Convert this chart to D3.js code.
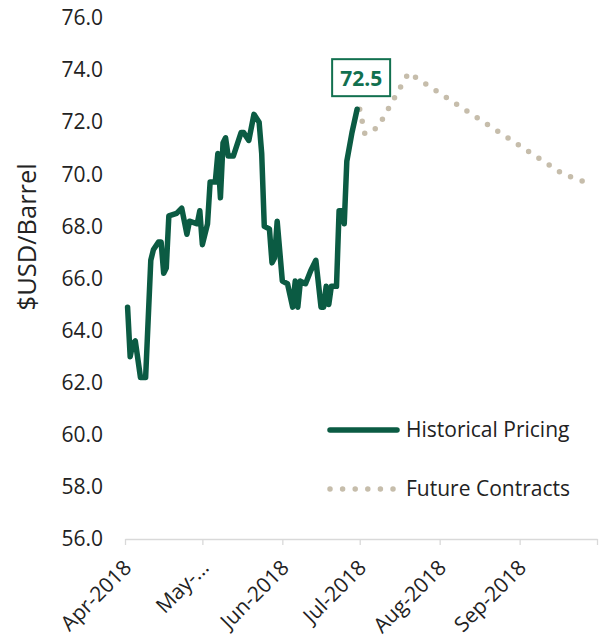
<!DOCTYPE html>
<style>
body {
  margin: 0;
  background: #fff;
  font-family: 'Open Sans', sans-serif;
}
.axis .domain {
  display: none;
}
</style>
<svg width="602" height="637"></svg>
<script src="https://d3js.org/d3.v7.min.js"></script>
<script>
// historical crude prices (daily)
var histDates = ["2018-04-02","2018-04-03","2018-04-04","2018-04-05","2018-04-07","2018-04-09","2018-04-11","2018-04-12",
  "2018-04-14","2018-04-15","2018-04-16","2018-04-17","2018-04-18","2018-04-21","2018-04-23","2018-04-25","2018-04-26",
  "2018-04-29","2018-04-30","2018-05-01","2018-05-03","2018-05-04","2018-05-06","2018-05-07","2018-05-08","2018-05-09",
  "2018-05-10","2018-05-11","2018-05-13","2018-05-16","2018-05-17","2018-05-19","2018-05-21","2018-05-23","2018-05-24",
  "2018-05-25","2018-05-27","2018-05-28","2018-05-29","2018-05-30","2018-06-01","2018-06-03","2018-06-05","2018-06-06",
  "2018-06-07","2018-06-08","2018-06-10","2018-06-12","2018-06-14","2018-06-16","2018-06-17","2018-06-18","2018-06-19",
  "2018-06-20","2018-06-22","2018-06-23","2018-06-24","2018-06-25","2018-06-26","2018-06-28","2018-06-30"];
var histValues = [64.9,63.0,63.5,63.6,62.2,62.2,66.7,67.1,
  67.4,67.4,66.2,66.4,68.4,68.5,68.7,67.7,68.2,
  68.1,68.6,67.3,68.1,69.7,69.7,70.8,69.1,71.2,
  71.4,70.7,70.7,71.6,71.6,71.3,72.3,72.0,70.8,
  68.0,67.9,66.6,66.8,68.2,65.9,65.8,64.9,65.9,
  64.9,65.9,65.8,66.3,66.7,64.9,64.9,65.7,65.0,
  65.7,65.7,68.6,68.6,68.1,70.5,71.6,72.5];

// futures contract curve
var futDates = ["2018-07-01","2018-07-03","2018-07-08","2018-07-20","2018-09-18","2018-09-28"];
var futValues = [72.5,71.55,71.8,73.9,70.0,69.65];

// axis ticks
var yTicks = [56,58,60,62,64,66,68,70,72,74,76];
var xTickDates = ["2018-04-01","2018-05-01","2018-06-01","2018-07-01","2018-08-01","2018-09-01","2018-10-01"];
var xLabels = ["Apr-2018","May-...","Jun-2018","Jul-2018","Aug-2018","Sep-2018",""];

var seriesNames = ["Historical Pricing","Future Contracts"];

var green = "#0b5b43",
    beige = "#c6bdab",
    labelGreen = "#12704f",
    textColor = "#222";

var parse = d3.timeParse("%Y-%m-%d");

var svg = d3.select("svg"),
    margin = {top: 18, right: 5, bottom: 98, left: 125},
    width = +svg.attr("width") - margin.left - margin.right,
    height = +svg.attr("height") - margin.top - margin.bottom,
    g = svg.append("g").attr("transform", "translate(" + margin.left + "," + margin.top + ")");

var hist = histDates.map(function(d, i) { return {date: parse(d), value: histValues[i]}; });
var fut = futDates.map(function(d, i) { return {date: parse(d), value: futValues[i]}; });

var x = d3.scaleTime()
    .domain([parse(xTickDates[0]), parse(xTickDates[xTickDates.length - 1])])
    .range([0, width]);

var y = d3.scaleLinear()
    .domain([56, 76])
    .range([height, 0]);

// y axis labels
g.append("g")
    .attr("class", "axis")
    .call(d3.axisLeft(y).tickValues(yTicks).tickSize(0).tickPadding(22).tickFormat(d3.format(".1f")))
  .selectAll("text")
    .attr("fill", textColor)
    .attr("font-size", 21)
    .attr("font-family", "'Open Sans', sans-serif");

// x axis
var xAxis = g.append("g")
    .attr("transform", "translate(0," + height + ")")
    .call(d3.axisBottom(x)
      .tickValues(xTickDates.map(parse))
      .tickSize(6)
      .tickSizeOuter(0)
      .tickFormat(function(d, i) { return xLabels[i]; }));

xAxis.select(".domain").attr("stroke", "#d9d9d9").attr("stroke-width", 1.3);
xAxis.selectAll(".tick line").attr("stroke", "#d9d9d9").attr("stroke-width", 1.3);
xAxis.selectAll(".tick text")
    .attr("fill", textColor)
    .attr("font-size", 21)
    .attr("font-family", "'Open Sans', sans-serif")
    .attr("text-anchor", "end")
    .attr("x", -16)
    .attr("y", 19)
    .attr("dy", "0.35em")
    .attr("transform", "rotate(-45)");

// y axis title
svg.append("text")
    .attr("transform", "translate(36," + (margin.top + y(67.6)) + ") rotate(-90)")
    .attr("text-anchor", "middle")
    .attr("fill", textColor)
    .attr("font-size", 25.5)
    .text("$USD/Barrel");

var line = d3.line()
    .x(function(d) { return x(d.date); })
    .y(function(d) { return y(d.value); });

// futures first so the historical line sits on top
g.append("path")
    .datum(fut)
    .attr("fill", "none")
    .attr("stroke", beige)
    .attr("stroke-width", 5.5)
    .attr("stroke-linecap", "round")
    .attr("stroke-dasharray", "0 12.3")
    .attr("d", line);

g.append("path")
    .datum(hist)
    .attr("fill", "none")
    .attr("stroke", green)
    .attr("stroke-width", 5.5)
    .attr("stroke-linejoin", "round")
    .attr("stroke-linecap", "round")
    .attr("d", line);

// last price call-out
var last = hist[hist.length - 1];
var callout = g.append("g")
    .attr("transform", "translate(" + (x(last.date) + 4) + "," + (y(last.value) - 31) + ")");

callout.append("rect")
    .attr("x", -29)
    .attr("y", -19)
    .attr("width", 58)
    .attr("height", 37)
    .attr("fill", "#fff")
    .attr("stroke", labelGreen)
    .attr("stroke-width", 2);

callout.append("text")
    .attr("text-anchor", "middle")
    .attr("dy", "0.36em")
    .attr("fill", labelGreen)
    .attr("font-size", 21)
    .attr("font-weight", "bold")
    .text(d3.format(".1f")(last.value));

// legend
var legend = svg.append("g")
    .attr("font-size", 21)
    .attr("fill", textColor)
  .selectAll("g")
  .data(seriesNames)
  .enter().append("g")
    .attr("transform", function(d, i) { return "translate(330," + (430 + i * 59) + ")"; });

legend.append("line")
    .attr("x1", 0)
    .attr("x2", function(d, i) { return i ? 64 : 67; })
    .attr("stroke", function(d, i) { return i ? beige : green; })
    .attr("stroke-width", function(d, i) { return i ? 5.5 : 5.5; })
    .attr("stroke-linecap", "round")
    .attr("stroke-dasharray", function(d, i) { return i ? "0 12.6" : null; });

legend.append("text")
    .attr("x", 76)
    .attr("dy", "0.35em")
    .text(function(d) { return d; });
</script>
